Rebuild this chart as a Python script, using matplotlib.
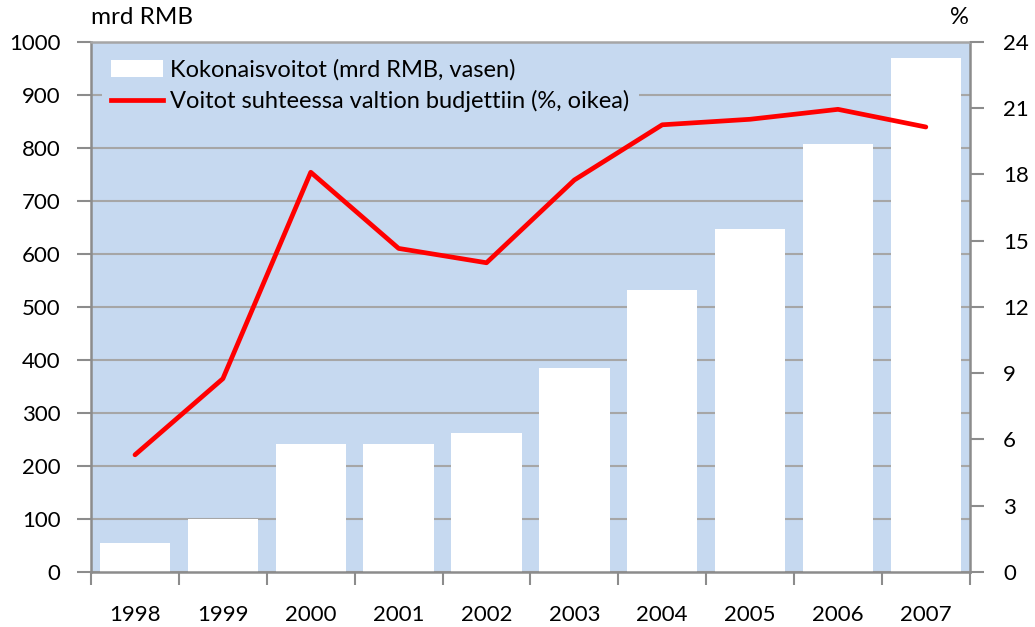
import numpy as np
import matplotlib.pyplot as plt
from matplotlib.patches import Patch
from matplotlib.lines import Line2D

# data
years = ['1998', '1999', '2000', '2001', '2002', '2003', '2004', '2005', '2006', '2007']
profits = [55, 100, 241, 241, 262, 385, 532, 647, 808, 970]          # mrd RMB, vasen
share_budget = [5.3, 8.75, 18.1, 14.65, 14.0, 17.75, 20.25, 20.5, 20.95, 20.15]  # %, oikea

plt.rcParams['font.family'] = ['Lato', 'DejaVu Sans']
plt.rcParams['font.size'] = 16

bg = '#C6D9F0'
grey = '#8C8C8C'

fig = plt.figure(figsize=(10.35, 6.27), dpi=100)
ax = fig.add_axes([0.088, 0.088, 0.849, 0.845])
ax.set_facecolor(bg)

x = np.arange(len(years))
ax.bar(x, profits, width=0.8, color='white', zorder=2)
ax.set_xlim(-0.5, len(years) - 0.5)
ax.set_ylim(0, 1000)
ax.set_yticks(np.arange(0, 1001, 100))
ax.set_axisbelow(True)
ax.yaxis.grid(True, color='#A6A6A6', linewidth=1.5)

# kategoriarajat tikkeinä, vuodet keskellä
ax.set_xticks(np.arange(-0.5, len(years), 1))
ax.set_xticklabels([])
ax.set_xticks(x, minor=True)
ax.set_xticklabels(years, minor=True)
ax.tick_params(axis='x', which='major', length=9, width=1.5, color=grey)
ax.tick_params(axis='x', which='minor', length=0, pad=24)
ax.tick_params(axis='y', length=10, width=1.5, color=grey, pad=12)

for s in ['left', 'right', 'bottom', 'top']:
    ax.spines[s].set_color(grey)
    ax.spines[s].set_linewidth(1.8)
ax.spines['top'].set_color('#A6A6A6')

ax2 = ax.twinx()
ax2.plot(x, share_budget, color='#FF0000', linewidth=3.4, solid_capstyle='round', zorder=3)
ax2.set_ylim(0, 24)
ax2.set_yticks(np.arange(0, 25, 3))
ax2.tick_params(axis='y', length=10, width=1.5, color=grey, pad=14)
for s in ['left', 'right', 'bottom', 'top']:
    ax2.spines[s].set_visible(False)

fig.text(0.088, 0.955, 'mrd RMB', ha='left', va='bottom', fontsize=17.5)
fig.text(0.936, 0.955, '%', ha='right', va='bottom', fontsize=17)

handles = [Patch(facecolor='white', edgecolor='none'),
           Line2D([0], [0], color='#FF0000', linewidth=3.4)]
labels = ['Kokonaisvoitot (mrd RMB, vasen)',
          'Voitot suhteessa valtion budjettiin (%, oikea)']
leg = ax2.legend(handles, labels, loc='upper left', bbox_to_anchor=(0.012, 0.985),
                 borderaxespad=0, frameon=True, fancybox=False, facecolor=bg,
                 edgecolor='none', framealpha=1, handlelength=2.2,
                 handletextpad=0.3, labelspacing=0.4, fontsize=17)

plt.savefig('out.png', dpi=100)
